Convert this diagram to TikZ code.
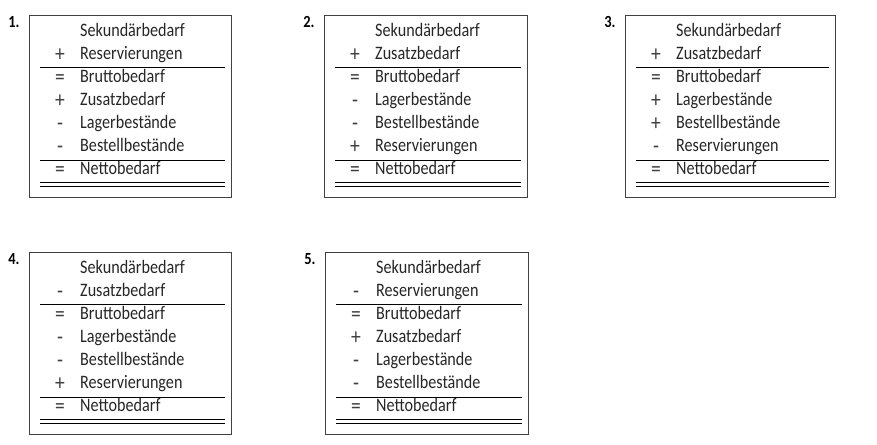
\documentclass[tikz,border=0pt]{standalone}
\usepackage{fontspec}
\setmainfont{Carlito}[FakeStretch=0.85]

\tikzset{
  rahmen/.style={draw=black!75,line width=0.8pt},
  trennung/.style={draw=black,line width=1.3pt},
  nr/.style={font=\fontsize{17}{19}\selectfont\bfseries,anchor=center,inner sep=0pt},
  zeichen/.style={font=\fontsize{23}{26}\selectfont,text=black!75,anchor=center,inner sep=0pt,text height=10pt,text depth=0pt},
  posten/.style={font=\fontsize{19}{22}\selectfont,text=black!85,anchor=west,inner sep=0pt,text height=1.45ex,text depth=.35ex}
}

% one calculation scheme: #1 number, #2/#3 top left corner, #4 width, #5 rows
\newcommand{\rechnung}[5]{%
  \begin{scope}[shift={(#2,#3)}]
    \node[nr] (nr#1) at (-15,7) {#1.};
    \draw[rahmen] (0,0) rectangle (#4,182);
    \foreach \op/\txt [count=\i] in {#5} {
      \node[zeichen] (op#1-\i) at (31,18.5+23*\i-23) {\op};
      \node[posten] (t#1-\i) at (51,18.5+23*\i-23) {\txt};
    }
    \draw[trennung] (11,52.5) -- (#4-6,52.5);
    \draw[trennung] (11,145.5) -- (#4-6,145.5);
    \draw[trennung] (11,167.5) -- (#4-6,167.5);
    \draw[trennung] (11,171.5) -- (#4-6,171.5);
  \end{scope}}

\begin{document}
\begin{tikzpicture}[x=1pt,y=-1pt]
  \useasboundingbox (0,0) rectangle (877,444);

  \rechnung{1}{29}{15}{202}{{}/Sekundärbedarf, +/Reservierungen, =/Bruttobedarf,
    +/Zusatzbedarf, -/Lagerbestände, -/Bestellbestände, =/Nettobedarf}
  \rechnung{2}{324}{15}{203}{{}/Sekundärbedarf, +/Zusatzbedarf, =/Bruttobedarf,
    -/Lagerbestände, -/Bestellbestände, +/Reservierungen, =/Nettobedarf}
  \rechnung{3}{625}{15}{210}{{}/Sekundärbedarf, +/Zusatzbedarf, =/Bruttobedarf,
    +/Lagerbestände, +/Bestellbestände, -/Reservierungen, =/Nettobedarf}
  \rechnung{4}{29}{252}{202}{{}/Sekundärbedarf, -/Zusatzbedarf, =/Bruttobedarf,
    -/Lagerbestände, -/Bestellbestände, +/Reservierungen, =/Nettobedarf}
  \rechnung{5}{325}{252}{203}{{}/Sekundärbedarf, -/Reservierungen, =/Bruttobedarf,
    +/Zusatzbedarf, -/Lagerbestände, -/Bestellbestände, =/Nettobedarf}
\end{tikzpicture}
\end{document}
